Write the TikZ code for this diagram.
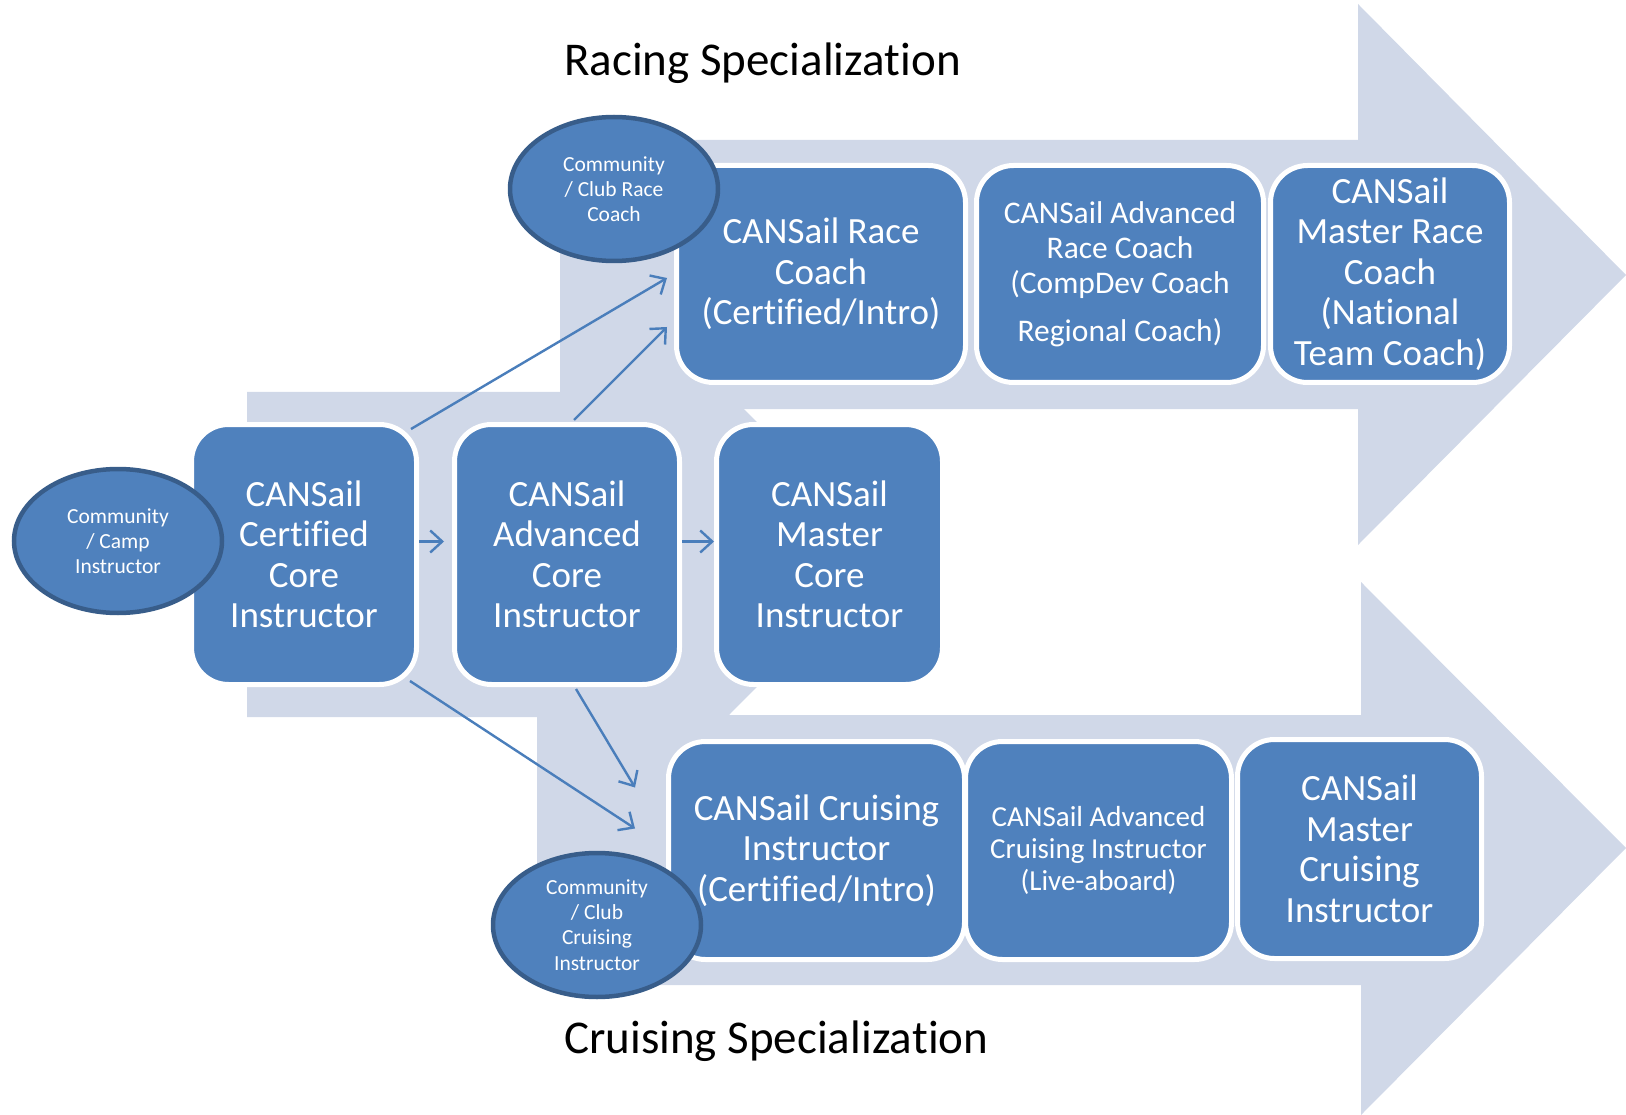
\documentclass[tikz,border=0pt]{standalone}
\usepackage{fontspec}
\setmainfont{Carlito}[Ligatures={NoCommon,NoContextual}]
\usetikzlibrary{shapes.geometric,arrows.meta}
\definecolor{boxblue}{HTML}{4F81BD}
\definecolor{ringblue}{HTML}{385D8A}
\definecolor{bgarrow}{HTML}{D0D8E8}
\definecolor{connblue}{HTML}{4A7EBB}
\newcommand{\nolig}{\kern0pt}
\begin{document}
\begin{tikzpicture}[x=1pt,y=-1pt,
  box/.style={rectangle, rounded corners=37pt, fill=boxblue, draw=white, line width=5pt,
    inner sep=0pt, align=center, text=white},
  bigtxt/.style={font=\fontsize{37}{40.5}\selectfont},
  midtxt/.style={font=\fontsize{31.5}{35}\selectfont},
  smalltxt/.style={font=\fontsize{29}{32}\selectfont},
  oval/.style={ellipse, fill=boxblue, draw=ringblue, line width=4.5pt, inner sep=0pt,
    minimum width=208pt, minimum height=144pt, align=center, text=white,
    font=\fontsize{21.5}{25.2}\selectfont},
  conn/.style={draw=connblue, line width=2.4pt, -{Straight Barb[length=12pt,width=22pt]}},
  title/.style={anchor=base west, font=\fontsize{47}{50}\selectfont, text=black, inner sep=0pt}]
\useasboundingbox (0,0) rectangle (1626,1115);
% background arrows
\fill[bgarrow] (560,140) -- (1358,140) -- (1358,4) -- (1626,275) -- (1358,545) -- (1358,409) -- (560,409) -- cycle;
\fill[bgarrow] (537,715) -- (1361,715) -- (1361,582) -- (1626,848) -- (1361,1115) -- (1361,985) -- (537,985) -- cycle;
\fill[bgarrow] (247,392) -- (727,392) -- (889,554.5) -- (727,717) -- (247,717) -- cycle;
% titles
\node[title] (ttop) at (564,76) {Racing Specializa\nolig tion};
\node[title] (tbot) at (564,1053) {Cruising Specializa\nolig tion};
% core row
\node[box, bigtxt, minimum width=225pt, minimum height=260pt] (cert) at (304,554.5) {CANSail\\Certi\nolig fied\\Core\\Instructor};
\node[box, bigtxt, minimum width=225pt, minimum height=260pt] (adv) at (567,554.5) {CANSail\\Advanced\\Core\\Instructor};
\node[box, bigtxt, minimum width=226pt, minimum height=260pt] (mcore) at (829.5,554.5) {CANSail\\Master\\Core\\Instructor};
% racing row
\node[box, bigtxt, minimum width=289pt, minimum height=217pt] (race) at (821,274) {CANSail Race\\Coach\\(Certi\nolig fied/Intro)};
\node[box, midtxt, minimum width=287pt, minimum height=217pt] (arace) at (1120,274) {CANSail Advanced\\Race Coach\\(CompDev Coach\\[13pt]Regional Coach)};
\node[box, bigtxt, minimum width=239pt, minimum height=217pt] (mrace) at (1390,274) {CANSail\\Master Race\\Coach\\(Na\nolig tional\\Team Coach)};
% cruising row
\node[box, bigtxt, minimum width=296pt, minimum height=218pt] (cruise) at (816.5,850.5) {CANSail Cruising\\Instructor\\(Certi\nolig fied/Intro)};
\node[box, smalltxt, minimum width=266pt, minimum height=218pt] (acruise) at (1098.5,850.5) {CANSail Advanced\\Cruising Instructor\\(Live-aboard)};
\node[box, bigtxt, minimum width=244pt, minimum height=219pt] (mcruise) at (1359.5,849) {CANSail\\Master\\Cruising\\Instructor};
% ovals
\node[oval] (camp) at (118,541) {Community\\/ Camp\\Instructor};
\node[oval] (club) at (614,189) {Community\\/ Club Race\\Coach};
\node[oval] (clubc) at (597,925) {Community\\/ Club\\Cruising\\Instructor};
% connectors
\draw[conn] ([yshift=13pt]cert.east) -- ([shift={(-8pt,13pt)}]adv.west);
\draw[conn] ([yshift=13pt]adv.east) -- ([shift={(0pt,13pt)}]mcore.west);
\draw[conn] ([shift={(-8pt,-7pt)}]cert.north east) -- ([shift={(-7pt,-4pt)}]race.west);
\draw[conn] ([shift={(7pt,2pt)}]adv.north) -- ([shift={(-7pt,-53pt)}]race.west);
\draw[conn] ([shift={(-9pt,6pt)}]cert.south east) -- ([shift={(-31pt,22pt)}]cruise.west);
\draw[conn] ([shift={(9pt,-2pt)}]adv.south) -- ([shift={(-31pt,63pt)}]cruise.west);
\end{tikzpicture}
\end{document}
